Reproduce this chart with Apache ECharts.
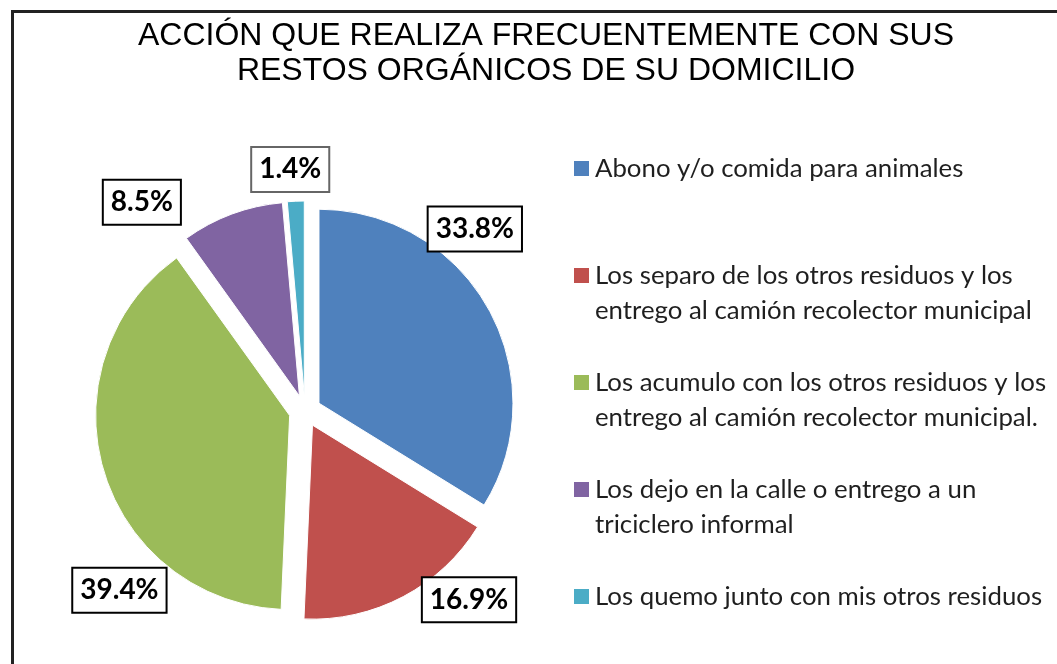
<!DOCTYPE html>
<html>
<head>
<meta charset="utf-8">
<script src="https://cdn.jsdelivr.net/npm/echarts@6/dist/echarts.min.js"></script>
<style>
  html, body { margin: 0; padding: 0; background: #fff; }
  #chart { width: 1057px; height: 664px; }
</style>
</head>
<body>
<div id="chart"></div>
<script>
// ---- data ----
const titleText = 'ACCIÓN QUE REALIZA FRECUENTEMENTE CON SUS\nRESTOS ORGÁNICOS DE SU DOMICILIO';
const categories = [
  'Abono y/o comida para animales',
  'Los separo de los otros residuos y los entrego al camión recolector municipal',
  'Los acumulo con los otros residuos y los entrego al camión recolector municipal.',
  'Los dejo en la calle o entrego a un triciclero informal',
  'Los quemo junto con mis otros residuos'
];
const values = [33.8, 16.9, 39.4, 8.5, 1.4];
const colors = ['#4F81BD', '#C0504D', '#9BBB59', '#8064A2', '#4BACC6'];

// ---- layout (label placement around the pie, in polar terms) ----
const pieCenter = [305, 411];
const pieRadius = 194;
const labelAngles = [43, 139, 226, 322, 356.5];   // degrees clockwise from top
const labelDists  = [249, 250, 258, 265, 242];
const labelBorder = ['#000', '#000', '#000', '#000', '#666'];

// wrap legend names; first line is kept centred on the legend icon
function wrap(name, max) {
  const words = name.split(' ');
  const lines = [];
  let cur = '';
  words.forEach(w => {
    const t = cur ? cur + ' ' + w : w;
    if (t.length > max && cur) { lines.push(cur); cur = w; } else { cur = t; }
  });
  if (cur) lines.push(cur);
  if (lines.length < 2) lines.push(' ');
  return ' \n' + lines.join('\n');
}

const chart = echarts.init(document.getElementById('chart'), null, { renderer: 'canvas' });

const option = {
  animation: false,
  backgroundColor: '#fff',
  title: {
    text: titleText,
    left: 546,
    textAlign: 'center',
    top: 19,
    padding: 0,
    textStyle: {
      fontFamily: 'Liberation Sans, Arial, sans-serif',
      fontSize: 32,
      fontWeight: 'normal',
      color: '#000',
      lineHeight: 35
    }
  },
  legend: {
    orient: 'vertical',
    left: 574,
    top: 116,
    padding: 0,
    itemGap: 2,
    itemWidth: 15,
    itemHeight: 15,
    icon: 'rect',
    selectedMode: false,
    data: categories,
    formatter: name => wrap(name, 40),
    itemStyle: { borderWidth: 0 },
    textStyle: {
      fontFamily: 'Lato, sans-serif',
      fontSize: 25.8,
      lineHeight: 35,
      color: '#1f1f1f',
      padding: [0, 0, 0, 1]
    }
  },
  graphic: [{
    type: 'rect',
    left: 10,
    top: 9,
    z: 100,
    shape: { width: 1200, height: 800 },
    style: { fill: 'none', stroke: '#222', lineWidth: 3 }
  }],
  series: [{
    // exploded pie slices
    type: 'pie',
    center: pieCenter,
    radius: pieRadius,
    startAngle: 90,
    clockwise: true,
    selectedMode: 'multiple',
    selectedOffset: 16,
    emphasis: { disabled: true },
    select: { itemStyle: { borderColor: '#fff', borderWidth: 1 } },
    itemStyle: { borderColor: '#fff', borderWidth: 1 },
    label: { show: false },
    labelLine: { show: false },
    data: categories.map((c, i) => ({
      name: c,
      value: values[i],
      selected: true,
      itemStyle: { color: colors[i] },
      select: { itemStyle: { color: colors[i] } }
    }))
  }, {
    // percentage data labels (transparent copy of the pie)
    type: 'pie',
    center: pieCenter,
    radius: pieRadius,
    startAngle: 90,
    clockwise: true,
    silent: true,
    selectedMode: false,
    avoidLabelOverlap: false,
    emphasis: { disabled: true },
    itemStyle: { color: 'rgba(0,0,0,0)', borderWidth: 0 },
    labelLine: { show: false },
    label: {
      show: true,
      position: 'outside',
      formatter: p => p.value.toFixed(1) + '%',
      fontFamily: 'Lato, sans-serif',
      fontWeight: 'bold',
      fontSize: 28,
      lineHeight: 30,
      color: '#000',
      backgroundColor: '#fff',
      borderWidth: 2,
      padding: [7, 7, 6, 7]
    },
    labelLayout: function (params) {
      const i = params.dataIndex;
      const a = labelAngles[i] * Math.PI / 180;
      return {
        x: pieCenter[0] + labelDists[i] * Math.sin(a),
        y: pieCenter[1] - labelDists[i] * Math.cos(a),
        align: 'center',
        verticalAlign: 'middle',
        hideOverlap: false
      };
    },
    data: categories.map((c, i) => ({
      name: c,
      value: values[i],
      label: { borderColor: labelBorder[i] }
    }))
  }]
};

chart.setOption(option);
</script>
</body>
</html>
